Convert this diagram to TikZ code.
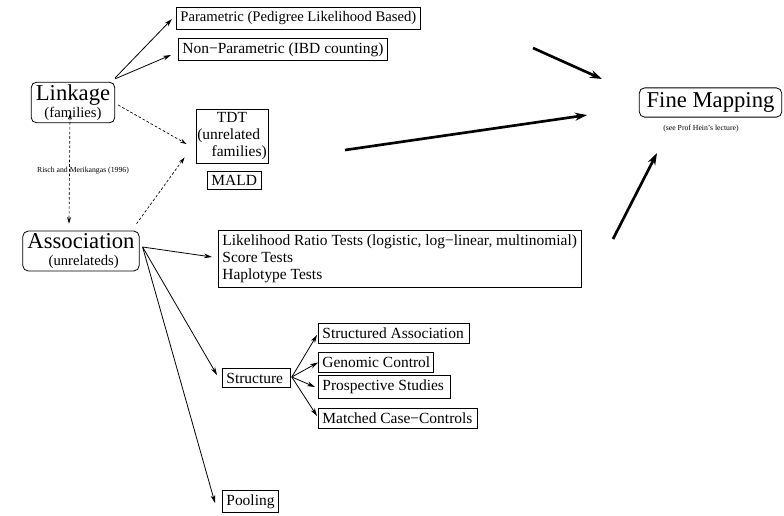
\documentclass[tikz,border=0pt]{standalone}
\usepackage{fontspec}
\setmainfont{Liberation Serif}
\usetikzlibrary{arrows.meta,calc}
\newcommand{\Lbx}[2]{\makebox[#1][l]{#2}}
\begin{document}
\begin{tikzpicture}[x=0.75pt,y=-0.75pt,
  box/.style={draw, line width=0.6pt, inner xsep=3pt, inner ysep=3.2pt, font=\fontsize{11.6}{12.75}\selectfont, anchor=west},
  rbox/.style={draw, line width=0.6pt, rounded corners=4pt, inner xsep=3.5pt, inner ysep=2pt, align=center},
  arr/.style={-{Stealth[length=6pt,width=3.5pt]}, line width=0.6pt},
  darr/.style={-{Stealth[length=5pt,width=3pt]}, line width=0.5pt, dash pattern=on 2pt off 1.5pt},
  bigarr/.style={-{Stealth[length=9pt,width=6pt]}, line width=2pt},
  tiny/.style={font=\fontsize{5.8}{7}\selectfont},
  ]
\useasboundingbox (0,0) rectangle (784,515);

% nodes
\node[box, font=\fontsize{11}{12}\selectfont] (par) at (176,18) {\Lbx{177pt}{Parametric (Pedigree Likelihood Based)}};
\node[box] (nonpar) at (178,49.5) {\Lbx{150.75pt}{Non{\textminus}Parametric (IBD counting)}};
\node[rbox] (link) at (73,102.5) {{\fontsize{17}{16}\selectfont Linkage}\\[0.3pt]{\fontsize{11}{11}\selectfont (families)}};
\node[box, anchor=center, text width=52pt, align=left, inner xsep=1pt, inner ysep=1.5pt, minimum height=40.5pt, font=\fontsize{11.6}{12.5}\selectfont] (tdt) at (232,136)
  {\hfill TDT\hfill\null\\(unrelated\\\hfill families)};
\node[box] (mald) at (207,180.5) {MALD};
\node[rbox] (assoc) at (81,251) {{\fontsize{17}{16}\selectfont Association}\\[0.3pt]{\fontsize{11}{11}\selectfont\hspace*{4pt}(unrelateds)}};
\node[box, align=left, minimum width=270.75pt] (lik) at (218,259) {Likelihood Ratio Tests (logistic, log{\textminus}linear, multinomial)\\Score Tests\\Haplotype Tests};
\node[box] (struct) at (222,378) {\Lbx{45pt}{Structure}};
\node[box] (sa) at (318,333.5) {\Lbx{107.25pt}{Structured Association}};
\node[box] (gc) at (318,362.5) {\Lbx{80.25pt}{Genomic Control}};
\node[box] (ps) at (318,387) {\Lbx{93pt}{Prospective Studies}};
\node[box] (mcc) at (318,418.5) {\Lbx{113.25pt}{Matched Case{\textminus}Controls}};
\node[box] (pool) at (222,501.5) {Pooling};
\node[rbox, inner xsep=5.5pt, inner ysep=3.5pt] (fine) at (710.5,102.5) {\fontsize{17}{17}\selectfont Fine Mapping};
\node[tiny] (sub) at (701,129) {(see Prof Hein's lecture)};
\node[tiny] (risch) at (83,171) {Risch and Merikangas (1996)};

% free ends of the thick arrows
\coordinate (t1s) at (533,48);
\coordinate (t1e) at (602,79);
\coordinate (t2s) at (345,150);
\coordinate (t2e) at (587,115);
\coordinate (t3s) at (613,239);
\coordinate (t3e) at (657,153);

% linkage arrows
\draw[arr] ($(link.north east)+(0,-4)$) -- ($(par.west)+(-4,1)$);
\draw[arr] ($(link.north east)+(0,-3)$) -- ($(nonpar.west)+(-7,5.5)$);
\draw[darr] ($(link.east)+(3,2.5)$) -- ($(tdt.west)+(-9,8)$);
\draw[darr] ($(assoc.north east)+(-3,-7)$) -- ($(tdt.south west)+(-11,-6)$);
\draw[darr, {Stealth[length=4pt,width=3pt]}-{Stealth[length=5pt,width=3pt]}] ($(link.south)+(-3,-9)$) -- ($(assoc.north)+(-12,-7)$);

% association arrows
\draw[arr] ($(assoc.east)+(3,-4)$) -- ($(lik.west)+(-6,-2)$);
\draw[arr] ($(assoc.east)+(3,-4)$) -- ($(struct.west)+(-5,-3)$);
\draw[arr] ($(assoc.east)+(3,-4)$) -- ($(pool.west)+(-7,1.5)$);

% structure arrows
\draw[arr] ($(struct.east)+(1,-1)$) -- ($(sa.west)+(-1,1.5)$);
\draw[arr] ($(struct.east)+(1,-1)$) -- ($(gc.west)+(0,0)$);
\draw[arr] ($(struct.east)+(1,-1)$) -- ($(ps.west)+(-3,0)$);
\draw[arr] ($(struct.east)+(1,-1)$) -- ($(mcc.west)+(-1,-2.5)$);

% thick arrows
\draw[bigarr] (t1s) -- (t1e);
\draw[bigarr] (t2s) -- (t2e);
\draw[bigarr] (t3s) -- (t3e);
\end{tikzpicture}
\end{document}
